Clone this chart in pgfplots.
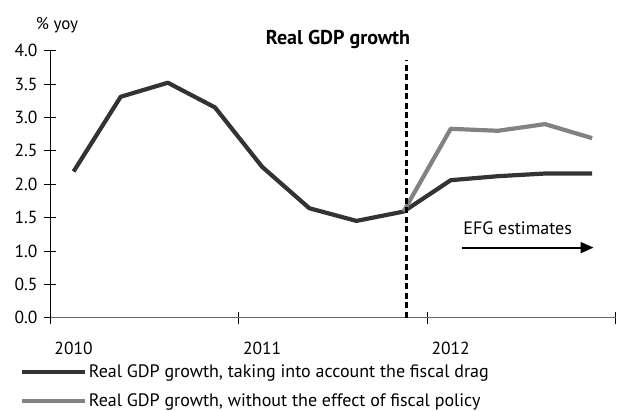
\documentclass[border=0pt]{standalone}
\usepackage{fontspec}
\setmainfont{PT Sans}
\usepackage{pgfplots}
\pgfplotsset{compat=1.18}
\usetikzlibrary{arrows.meta}
\definecolor{darkline}{RGB}{51,51,51}
\definecolor{greyline}{RGB}{130,130,130}
\begin{document}
\begin{tikzpicture}
\path[use as bounding box] (-50bp,-93.3bp) rectangle (567bp,317.7bp);
\begin{axis}[
  at={(0,0)}, anchor=south west,
  scale only axis, width=565.7bp, height=267bp,
  xmin=0, xmax=12, ymin=0, ymax=4,
  clip=false,
  axis x line=bottom, axis y line=left,
  axis line style={-, line width=0.8bp},
  x axis line style={draw=gray!80!black},
  y axis line style={draw=black},
  xtick={0,4,8,12}, xticklabels={},
  extra x ticks={0.5,4.5,8.5}, extra x tick labels={2010,2011,2012},
  extra x tick style={major tick length=0pt, xticklabel style={yshift=-21bp}},
  ytick={0,0.5,1,1.5,2,2.5,3,3.5,4},
  yticklabel style={xshift=-3bp, /pgf/number format/.cd, fixed, fixed zerofill, precision=1, assume math mode=true},
  tick align=center, major tick length=12bp,
  tick style={black, line width=0.8bp},
  tick label style={font=\fontsize{17.5bp}{20bp}\selectfont},
  legend style={at={(-0.053,-0.168)}, anchor=north west, draw=none, fill=none,
    font=\fontsize{18bp}{21bp}\selectfont, inner sep=0pt, row sep=11bp,
    nodes={inner xsep=1.5bp, inner ysep=2bp}},
  legend cell align=left,
  legend image code/.code={\draw[#1, line width=4.2bp] (0bp,0bp) -- (63bp,0bp);},
]
\addplot[darkline, line width=4.2bp, line join=round] coordinates {
 (0.5,2.19) (1.5,3.31) (2.5,3.52) (3.5,3.15) (4.5,2.26) (5.5,1.64)
 (6.5,1.45) (7.5,1.59) (8.5,2.06) (9.5,2.12) (10.5,2.16) (11.5,2.16)};
\addlegendentry{Real GDP growth, taking into account the fiscal drag}
\addplot[greyline, line width=4.2bp, line join=round] coordinates {
 (7.5,1.59) (8.5,2.83) (9.5,2.80) (10.5,2.90) (11.5,2.69)};
\addlegendentry{Real GDP growth, without the effect of fiscal policy}
\addplot[black, line width=2.3bp, dash pattern=on 6bp off 3.5bp, forget plot] coordinates {(7.56,0) (7.56,3.86)};
\addplot[black, line width=2bp, -{Triangle[length=13bp,width=11bp]}, forget plot] coordinates {(8.75,1.05) (11.53,1.05)};
\node[font=\fontsize{18bp}{21bp}\selectfont] at (axis cs:9.92,1.34) {EFG estimates};
\end{axis}
\node[font=\fontsize{17bp}{20bp}\selectfont] at (7bp,292.7bp) {\% yoy};
\node[font=\bfseries\fontsize{20bp}{23bp}\selectfont] at (288bp,278.7bp) {Real GDP growth};
\end{tikzpicture}
\end{document}
